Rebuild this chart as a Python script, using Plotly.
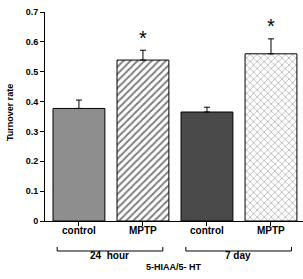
import plotly.graph_objects as go

categories = ["control", "MPTP", "control", "MPTP"]
values = [0.377, 0.539, 0.365, 0.560]
errors = [0.028, 0.033, 0.016, 0.050]
groups = ["24  hour", "7 day"]
y_ticks = [0, 0.1, 0.2, 0.3, 0.4, 0.5, 0.6, 0.7]
y_tick_labels = ["0", "0.1", "0.2", "0.3", "0.4", "0.5", "0.6", "0.7"]
star_heights = [0.612, 0.652]

colors = ["#8e8e8e", "white", "#4a4a4a", "white"]
patterns = ["", "/", "", "x"]
pat_fg = ["black", "black", "black", "#333333"]
pat_size = [6, 5, 6, 5]
pat_sol = [0.3, 0.4, 0.3, 0.22]

xs = list(range(len(categories)))
fig = go.Figure()
for i in xs:
    fig.add_trace(go.Bar(
        x=[i], y=[values[i]], width=0.81,
        marker=dict(color=colors[i], line=dict(color="black", width=1),
                    pattern=dict(shape=patterns[i], fgcolor=pat_fg[i], bgcolor=colors[i],
                                 size=pat_size[i], solidity=pat_sol[i])),
        error_y=dict(type="data", array=[errors[i]], arrayminus=[0], symmetric=False,
                     color="black", thickness=1, width=3),
        showlegend=False, hoverinfo="skip",
    ))

font_b = dict(family="Liberation Sans, Arial", size=9, color="black")
ann = []
for i in xs:
    ann.append(dict(x=i, y=-0.083, xref="x", yref="paper", text="<b>%s</b>" % categories[i],
                    showarrow=False, font=dict(family="Liberation Sans, Arial", size=10, color="black")))
for i, s in zip([1, 3], star_heights):
    ann.append(dict(x=i, y=s, xref="x", yref="y", text="*", showarrow=False,
                    font=dict(family="Liberation Sans, Arial", size=20, color="black")))
group_centers = [0.485, 2.49]
for c, g in zip(group_centers, groups):
    ann.append(dict(x=c, y=-0.203, xref="x", yref="paper", text="<b>%s</b>" % g.replace("  ", "&nbsp;&nbsp;"),
                    showarrow=False, font=dict(family="Liberation Sans, Arial", size=10, color="black")))
ann.append(dict(x=0.5, y=-0.255, xref="paper", yref="paper", text="<b>5-HIAA/5- HT</b>",
                showarrow=False, font=dict(family="Liberation Sans, Arial", size=9, color="black")))
ann.append(dict(x=-0.16, y=0.52, xref="paper", yref="paper", text="<b>Turnover rate</b>",
                textangle=-90, showarrow=False, font=font_b))

shapes = []
for x0, x1 in [(-0.34, 1.31), (1.67, 3.32)]:
    shapes.append(dict(type="path", xref="x", yref="paper",
                       path=f"M {x0} -0.124 L {x0} -0.1435 L {x1} -0.1435 L {x1} -0.124",
                       line=dict(color="black", width=1)))
fig.update_layout(annotations=ann, shapes=shapes)

fig.update_layout(
    width=303, height=279,
    margin=dict(l=45, r=0, t=12, b=58, autoexpand=False),
    plot_bgcolor="white", paper_bgcolor="white",
    xaxis=dict(range=[-0.53, 3.5], tickvals=xs, showticklabels=False, ticks="outside",
               ticklen=4, tickcolor="black", showline=True, linecolor="black", linewidth=1,
               showgrid=False, zeroline=False, automargin=False),
    yaxis=dict(range=[0, 0.7], tickvals=y_ticks, ticktext=["<b>%s</b>" % t for t in y_tick_labels],
               ticks="outside", ticklen=4, tickcolor="black", showline=True, linecolor="black",
               linewidth=1, showgrid=False, zeroline=False, tickfont=font_b, automargin=False),
)
fig.write_html("out.html", config={"displayModeBar": False, "staticPlot": True},
               post_script="document.body.style.margin='0px';")
